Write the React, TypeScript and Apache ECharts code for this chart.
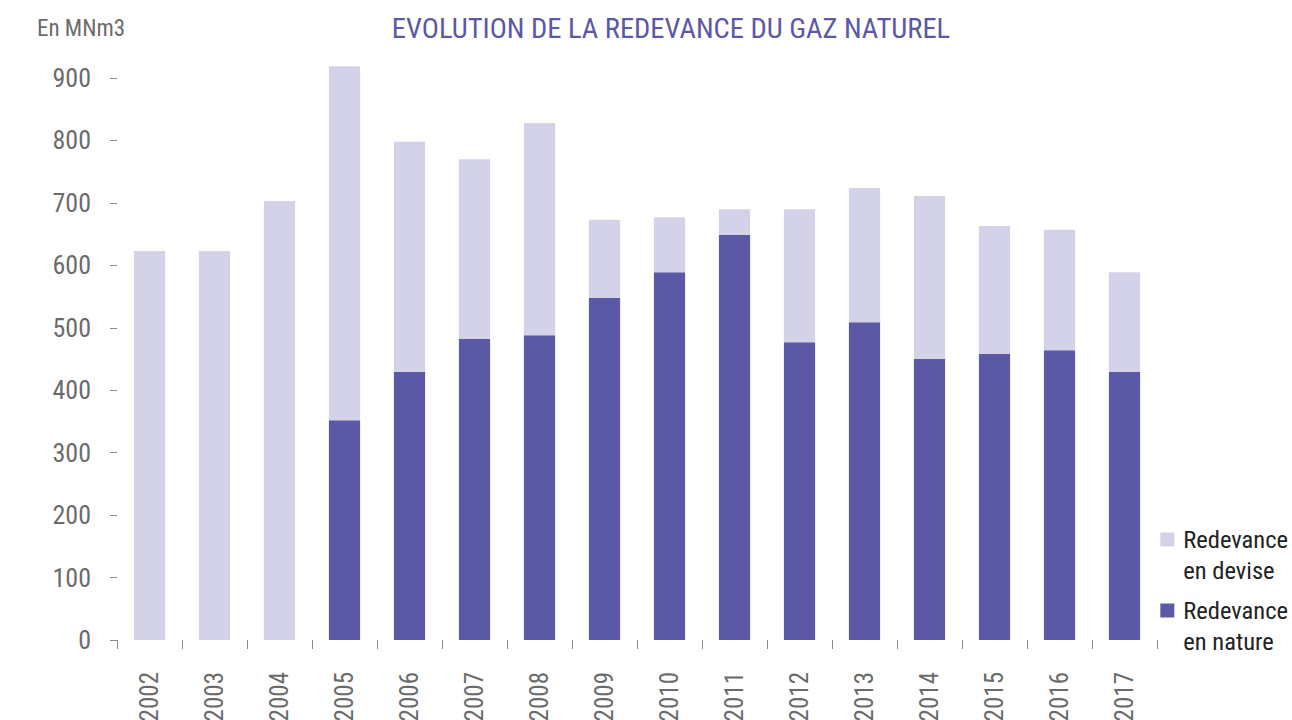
import React, { useEffect, useRef } from "react";
import * as echarts from "echarts";

const years = ["2002","2003","2004","2005","2006","2007","2008","2009","2010","2011","2012","2013","2014","2015","2016","2017"];
const enNature: (number | null)[] = [null, null, null, 352, 429, 482, 488, 548, 589, 649, 477, 509, 450, 458, 464, 429];
const enDevise: number[] = [623, 623, 703, 567, 369, 288, 340, 125, 88, 41, 213, 215, 261, 205, 193, 160];
const yTicks = { min: 0, max: 900, interval: 100 };

const FONT = "'Liberation Sans Narrow', 'Roboto Condensed', 'Roboto', sans-serif";
const DARK = "#5b58a6";
const LIGHT = "#d4d2e9";
const GREY = "#6b6b6b";

export default function App() {
  const ref = useRef<HTMLDivElement>(null);
  useEffect(() => {
    if (!ref.current) return;
    const chart = echarts.init(ref.current, undefined, { renderer: "svg" });
    chart.setOption({
      animation: false,
      textStyle: { fontFamily: FONT },
      title: [
        {
          text: "EVOLUTION DE LA REDEVANCE DU GAZ NATUREL",
          left: 666,
          textAlign: "center",
          top: 9,
          textStyle: { color: "#5c58a7", fontSize: 28.5, fontWeight: "normal", fontFamily: FONT },
        },
        {
          text: "En MNm3",
          left: 32,
          top: 12,
          textStyle: { color: GREY, fontSize: 23, fontWeight: "normal", fontFamily: FONT },
        },
      ],
      legend: {
        orient: "vertical",
        right: 4,
        top: 493,
        padding: 0,
        itemWidth: 14,
        itemHeight: 14,
        itemGap: -22,
        icon: "rect",
        data: ["Redevance en devise", "Redevance en nature"],
        formatter: (n: string) => "\n" + n.replace(" en ", "\nen "),
        textStyle: { color: "#222", fontSize: 24.5, lineHeight: 31, padding: [0, 0, 0, 4], fontFamily: FONT },
      },
      grid: { left: 117, right: 135, top: 78, bottom: 80, containLabel: false, outerBoundsMode: "none" },
      xAxis: {
        type: "category",
        data: years,
        offset: 3,
        axisLine: { show: false },
        axisTick: { show: true, length: 9, lineStyle: { color: "#8a8a8a" } },
        axisLabel: { rotate: 90, margin: 29, color: GREY, fontSize: 25, fontFamily: FONT },
      },
      yAxis: {
        type: "value",
        min: yTicks.min,
        max: yTicks.max,
        interval: yTicks.interval,
        axisLine: { show: false },
        axisTick: { show: true, length: 7, lineStyle: { color: "#8a8a8a" } },
        splitLine: { show: false },
        axisLabel: { margin: 26, color: GREY, fontSize: 26, fontFamily: FONT },
      },
      series: [
        {
          name: "Redevance en nature",
          type: "bar",
          stack: "total",
          clip: false,
          data: enNature,
          barWidth: "48%",
          itemStyle: { color: DARK },
        },
        {
          name: "Redevance en devise",
          type: "bar",
          stack: "total",
          clip: false,
          data: enDevise,
          barWidth: "48%",
          itemStyle: { color: LIGHT },
        },
      ],
    });
    return () => chart.dispose();
  }, []);
  return <div ref={ref} style={{ width: 1292, height: 720, position: "absolute", left: 0, top: 0 }} />;
}
